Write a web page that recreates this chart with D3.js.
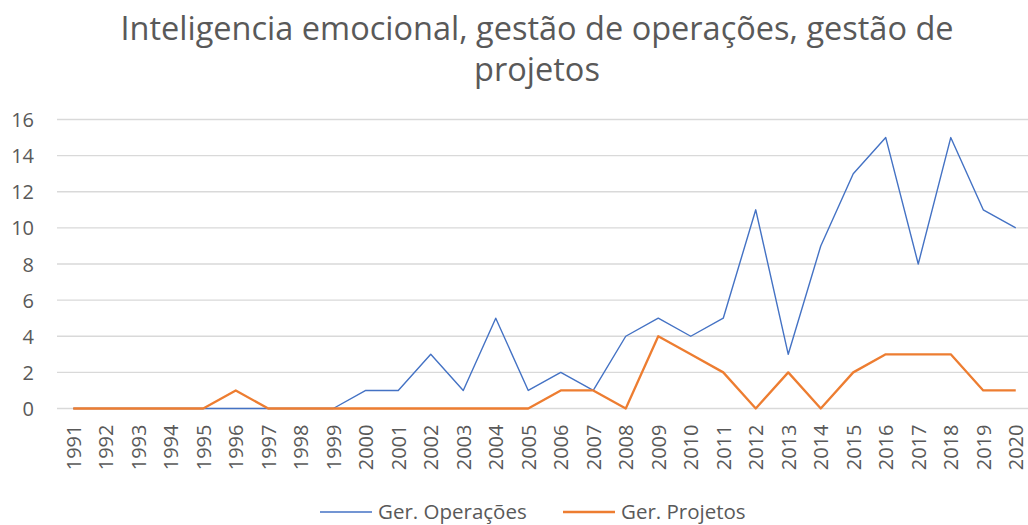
<!DOCTYPE html>
<html>
<head>
<meta charset="utf-8">
<script src="https://cdn.jsdelivr.net/npm/d3@7"></script>
<style>
  body { margin: 0; background: #fff; }
  text { font-family: "Open Sans", sans-serif; fill: #595959; }
</style>
</head>
<body>
<div id="chart-container"></div>
<script>
//data
var years = ['1991','1992','1993','1994','1995','1996','1997','1998','1999','2000',
    '2001','2002','2003','2004','2005','2006','2007','2008','2009','2010',
    '2011','2012','2013','2014','2015','2016','2017','2018','2019','2020'];
var operacoes = [0,0,0,0,0,0,0,0,0,1, 1,3,1,5,1,2,1,4,5,4, 5,11,3,9,13,15,8,15,11,10];
var projetos  = [0,0,0,0,0,1,0,0,0,0, 0,0,0,0,0,1,1,0,4,3, 2,0,2,0,2,3,3,3,1,1];
var yTicks = [0,2,4,6,8,10,12,14,16];
var seriesNames = ['Ger. Operações', 'Ger. Projetos'];
var titleLines = ['Inteligencia emocional, gestão de operações, gestão de', 'projetos'];

//sizes
var outerW = 1028,
    outerH = 525;

var plotLeft = 57,
    plotRight = 1032,
    plotTop = 119.5,
    plotBottom = 408.5;

var colors = ['#4472C4', '#ED7D31'];

var svg = d3.select('#chart-container').append('svg')
    .attr('width', outerW)
    .attr('height', outerH);

//scales
var xScale = d3.scalePoint().domain(years).range([plotLeft + 16.25, plotRight - 16.25]);
var yScale = d3.scaleLinear().domain([0, 16]).range([plotBottom, plotTop]);

//title (one text, wrapped in two tspans)
var title = svg.append('text')
    .attr('class', 'chart-title')
    .attr('text-anchor', 'middle')
    .style('font-size', '32.5px');

title.selectAll('tspan')
    .data(titleLines)
    .enter()
    .append('tspan')
    .attr('x', 537)
    .attr('y', function(d, i) { return 39.5 + i * 41.5; })
    .text(function(d) { return d; });

//grid
svg.selectAll('.grid-line')
    .data(yTicks)
    .enter()
    .append('line')
    .attr('class', 'grid-line')
    .attr('x1', plotLeft)
    .attr('x2', outerW)
    .attr('y1', function(d) { return yScale(d); })
    .attr('y2', function(d) { return yScale(d); })
    .attr('stroke', '#D9D9D9')
    .attr('stroke-width', 1.3);

//y axis
var yAxis = d3.axisLeft(yScale)
    .tickValues(yTicks)
    .tickSize(0)
    .tickPadding(0);

var yAxisG = svg.append('g')
    .attr('transform', 'translate(34,0)')
    .call(yAxis);
yAxisG.select('.domain').remove();
yAxisG.selectAll('text')
    .style('font-size', '20px')
    .attr('dy', '0.35em');

//x axis
var xAxis = d3.axisBottom(xScale).tickSize(0).tickPadding(0);
var xAxisG = svg.append('g')
    .attr('transform', 'translate(0,' + plotBottom + ')')
    .call(xAxis);
xAxisG.select('.domain').remove();
xAxisG.selectAll('text')
    .style('font-size', '20px')
    .attr('text-anchor', 'end')
    .attr('transform', 'translate(0,16) rotate(-90)')
    .attr('x', 0)
    .attr('y', 0)
    .attr('dy', '0.35em');

//lines
var line = d3.line()
    .x(function(d, i) { return xScale(years[i]); })
    .y(function(d) { return yScale(d); });

var seriesData = [operacoes, projetos];
var widths = [1.4, 2.3];

svg.selectAll('.series-line')
    .data(seriesData)
    .enter()
    .append('path')
    .attr('class', 'series-line')
    .attr('d', function(d) { return line(d); })
    .attr('fill', 'none')
    .attr('stroke', function(d, i) { return colors[i]; })
    .attr('stroke-width', function(d, i) { return widths[i]; })
    .attr('stroke-linejoin', 'round');

//legend
var legendX = [320, 563];
var legend = svg.selectAll('.legend-item')
    .data(seriesNames)
    .enter()
    .append('g')
    .attr('class', 'legend-item')
    .attr('transform', function(d, i) { return 'translate(' + legendX[i] + ',512)'; });

legend.append('line')
    .attr('x1', 0)
    .attr('x2', 52)
    .attr('y1', 0)
    .attr('y2', 0)
    .attr('stroke', function(d, i) { return colors[i]; })
    .attr('stroke-width', function(d, i) { return widths[i]; });

legend.append('text')
    .attr('x', 58)
    .attr('y', 0)
    .attr('dy', '0.35em')
    .style('font-size', '20.5px')
    .text(function(d) { return d; });
</script>
</body>
</html>
